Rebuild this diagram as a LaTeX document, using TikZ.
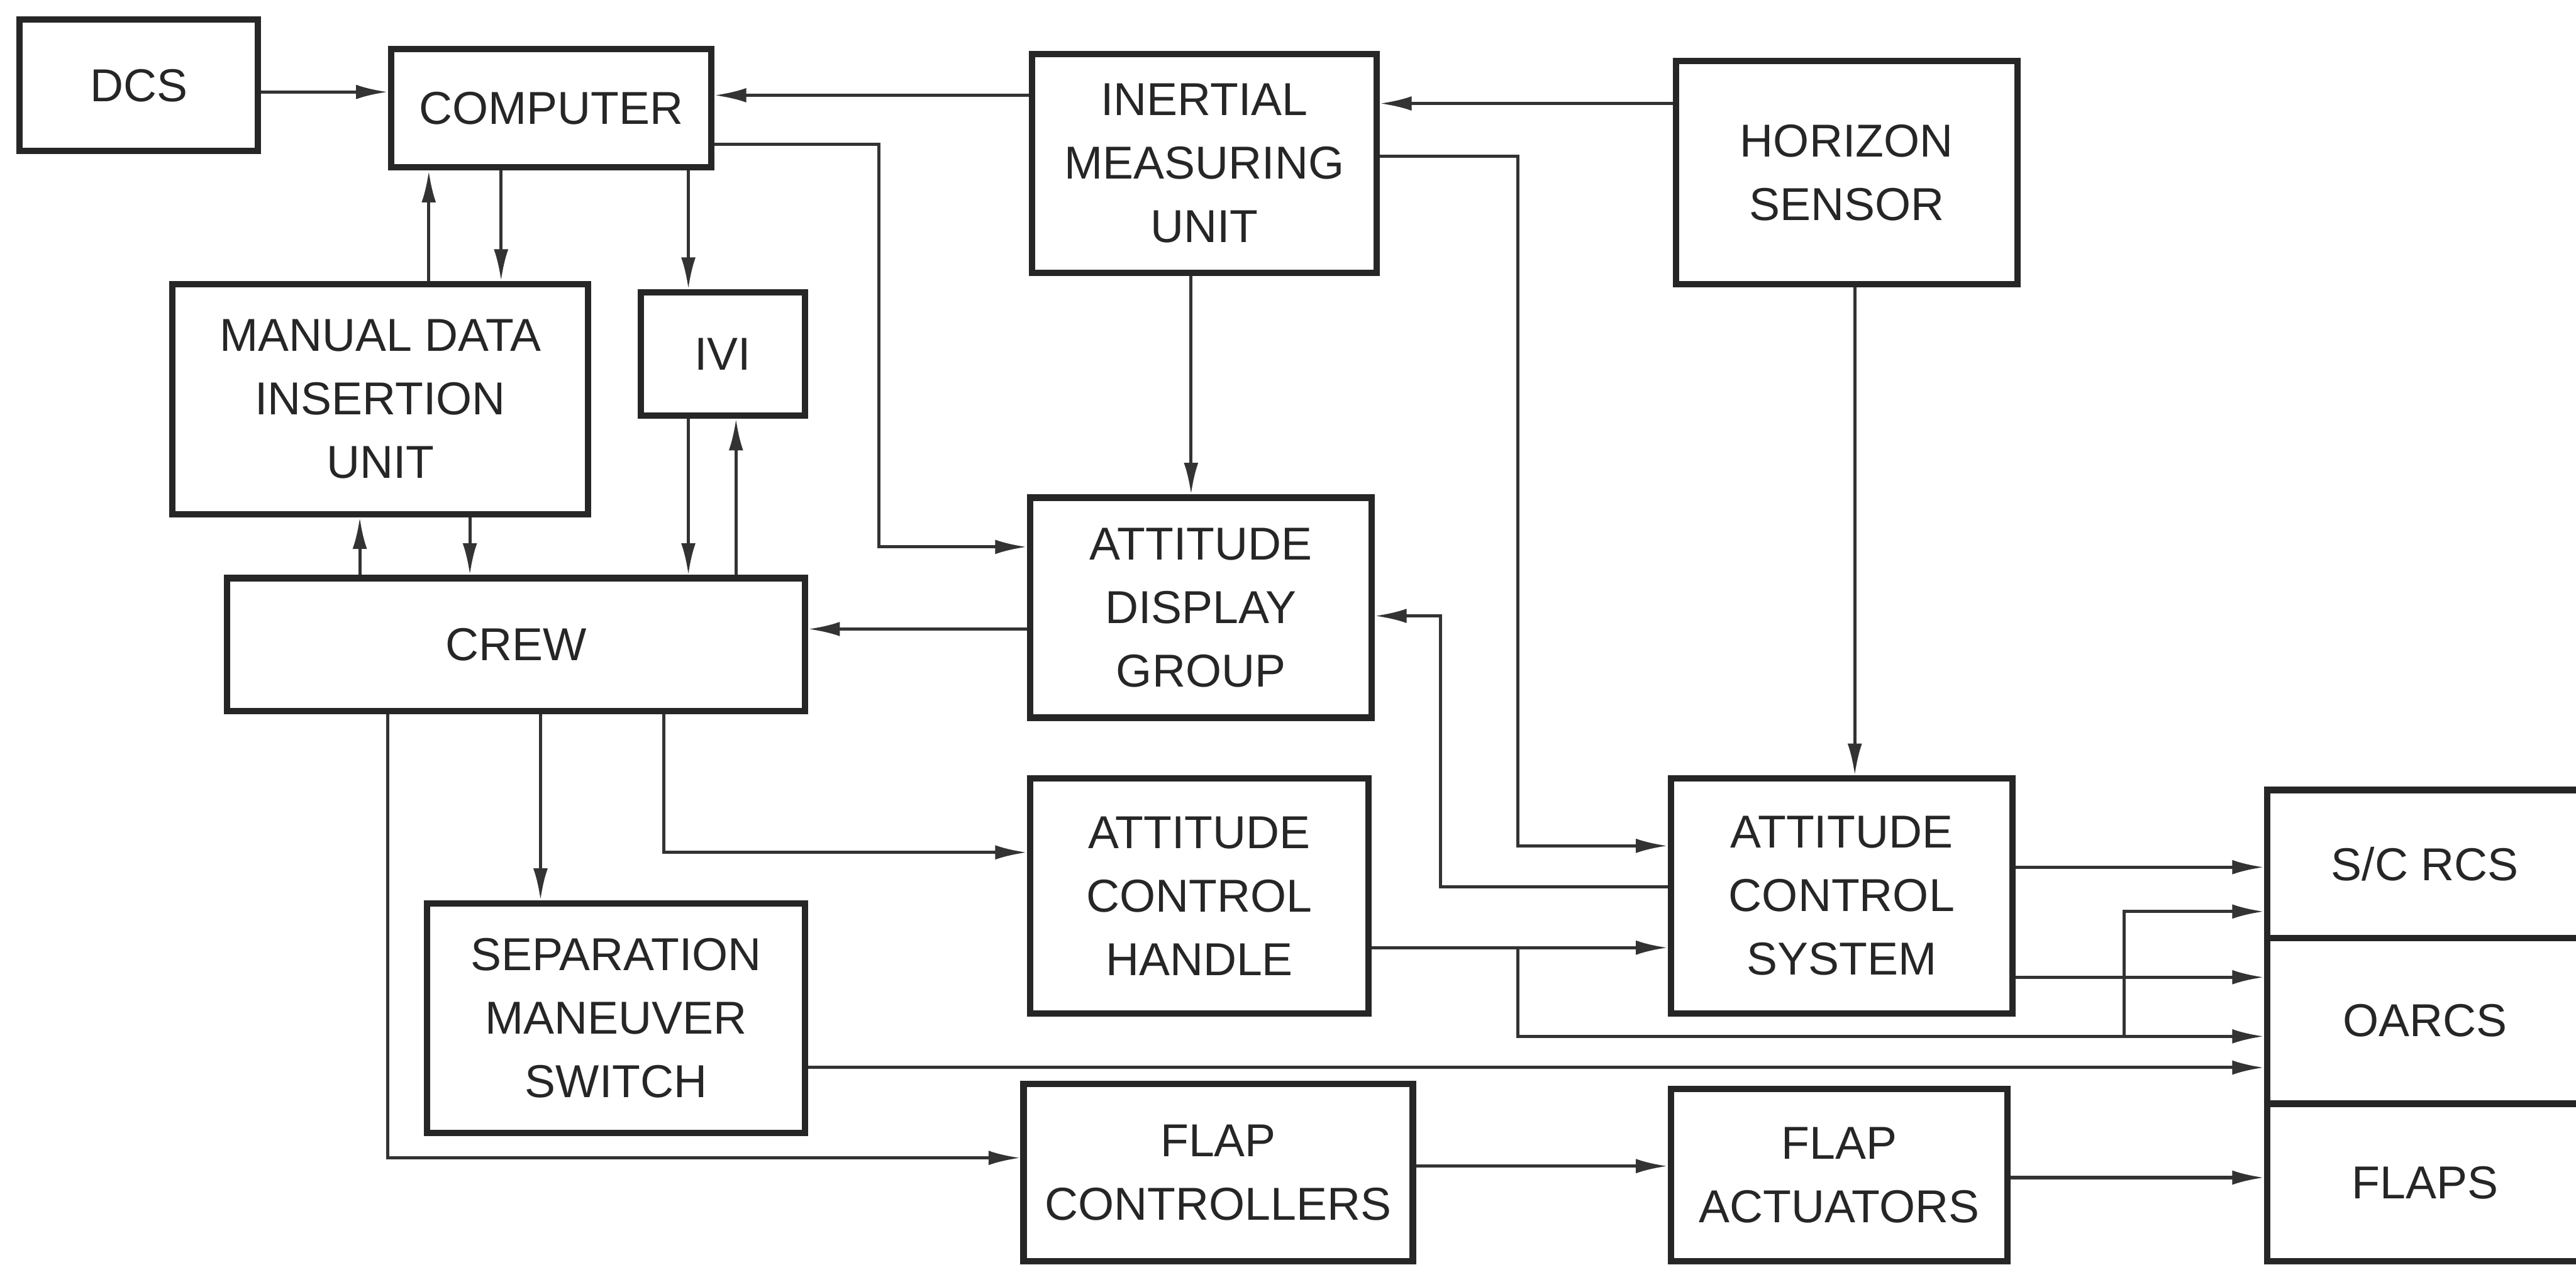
\documentclass[tikz,border=0pt]{standalone}
\usepackage{fontspec}
\setmainfont{Liberation Sans}
\usetikzlibrary{arrows.meta}
\begin{document}
\begin{tikzpicture}[x=0.02cm,y=-0.02cm,
	blk/.style={draw=black!85,line width=2.2pt,align=center,inner sep=2pt,
		font=\fontsize{16}{22}\selectfont,text=black!85},
	arr/.style={draw=black!80,line width=1.1pt,-{Latex[length=11pt,width=5pt]}}]
		\clip (0,0) rectangle (1568,770);
		% Blocs
		\node[blk,minimum width=2.9cm,minimum height=1.6cm] (dcs) at (84.5,52) {DCS};
		\node[blk,minimum width=3.9cm,minimum height=1.44cm] (comp) at (335.5,66) {COMPUTER};
		\node[blk,minimum width=4.2cm,minimum height=2.66cm] (imu) at (733,99.5) {INERTIAL\\MEASURING\\UNIT};
		\node[blk,minimum width=4.16cm,minimum height=2.72cm] (hor) at (1124,105) {HORIZON\\SENSOR};
		\node[blk,minimum width=5.06cm,minimum height=2.8cm] (mdiu) at (231.5,243) {MANUAL DATA\\INSERTION\\UNIT};
		\node[blk,minimum width=2cm,minimum height=1.5cm] (ivi) at (440,215.5) {IVI};
		\node[blk,minimum width=7.04cm,minimum height=1.62cm] (crew) at (314,392.5) {CREW};
		\node[blk,minimum width=4.16cm,minimum height=2.68cm] (adg) at (731,370) {ATTITUDE\\DISPLAY\\GROUP};
		\node[blk,minimum width=4.12cm,minimum height=2.86cm] (ach) at (730,545.5) {ATTITUDE\\CONTROL\\HANDLE};
		\node[blk,minimum width=4.16cm,minimum height=2.86cm] (acs) at (1121,545.5) {ATTITUDE\\CONTROL\\SYSTEM};
		\node[blk,minimum width=4.6cm,minimum height=2.8cm] (sms) at (375,620) {SEPARATION\\MANEUVER\\SWITCH};
		\node[blk,minimum width=4.74cm,minimum height=2.16cm] (fc) at (741.5,714) {FLAP\\CONTROLLERS};
		\node[blk,minimum width=4.1cm,minimum height=2.1cm] (fa) at (1119.5,715.5) {FLAP\\ACTUATORS};
		\node[blk,minimum width=3.84cm,minimum height=1.8cm] (rcs) at (1476,526) {S/C RCS};
		\node[blk,minimum width=3.84cm,minimum height=2.02cm] (oarcs) at (1476,621.5) {OARCS};
		\node[blk,minimum width=3.84cm,minimum height=1.92cm] (flaps) at (1476,720) {FLAPS};
		\coordinate (j1) at (924,577);
		\coordinate (j2) at (1293,631);

		% Liaisons
		\draw[arr] (dcs.east |- 0,56) -- (comp.west |- 0,56);
		\draw[arr] (imu.west |- 0,58) -- (comp.east |- 0,58);
		\draw[arr] (comp.east |- 0,88) -| (535,333) -- (adg.west |- 0,333);
		\draw[arr] (hor.west |- 0,63) -- (imu.east |- 0,63);
		\draw[arr] (imu.east |- 0,95) -| (924,515) -- (acs.west |- 0,515);
		\draw[arr] (imu.south -| 725,0) -- (adg.north -| 725,0);
		\draw[arr] (hor.south -| 1129,0) -- (acs.north -| 1129,0);
		\draw[arr] (adg.west |- 0,383) -- (crew.east |- 0,383);
		\draw[arr] (acs.west |- 0,540) -| (877,375) -- (adg.east |- 0,375);
		\draw[arr] (ach.east |- 0,577) -- (acs.west |- 0,577);
		\draw[arr] (j1) |- (oarcs.west |- 0,631);
		\draw[arr] (j2) |- (rcs.west |- 0,555);
		\draw[arr] (acs.east |- 0,528) -- (rcs.west |- 0,528);
		\draw[arr] (acs.east |- 0,595) -- (oarcs.west |- 0,595);
		\draw[arr] (sms.east |- 0,650) -- (oarcs.west |- 0,650);
		\draw[arr] (crew.south -| 404,0) |- (ach.west |- 0,519);
		\draw[arr] (crew.south -| 329,0) -- (sms.north -| 329,0);
		\draw[arr] (crew.south -| 236,0) |- (fc.west |- 0,705);
		\draw[arr] (fc.east |- 0,710) -- (fa.west |- 0,710);
		\draw[arr] (fa.east |- 0,717) -- (flaps.west |- 0,717);

		\foreach \xa/\xb in {261/305}{
			\draw[arr] (mdiu.north -| \xa,0) -- (comp.south -| \xa,0);
			\draw[arr] (comp.south -| \xb,0) -- (mdiu.north -| \xb,0);
			}
		\draw[arr] (comp.south -| 419,0) -- (ivi.north -| 419,0);
		\draw[arr] (crew.north -| 219,0) -- (mdiu.south -| 219,0);
		\draw[arr] (mdiu.south -| 286,0) -- (crew.north -| 286,0);
		\draw[arr] (ivi.south -| 419,0) -- (crew.north -| 419,0);
		\draw[arr] (crew.north -| 448,0) -- (ivi.south -| 448,0);
\end{tikzpicture}
\end{document}
